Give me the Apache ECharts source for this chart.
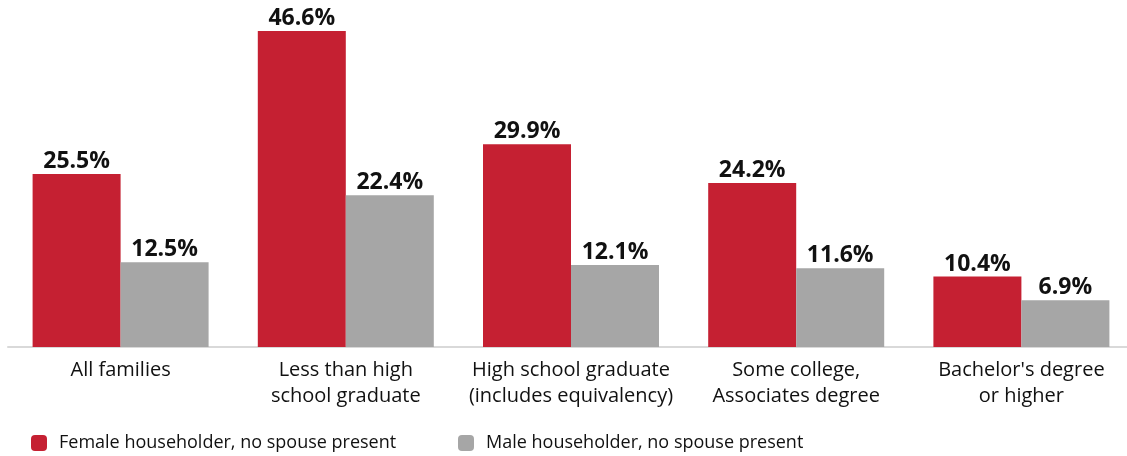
<!DOCTYPE html>
<html>
<head>
<meta charset="utf-8">
<script src="https://cdn.jsdelivr.net/npm/echarts@6/dist/echarts.min.js"></script>
<style>
  html, body { margin:0; padding:0; background:#fff; overflow:hidden; }
  #chart { width:1134px; height:456px; }
</style>
</head>
<body>
<div id="chart"></div>
<script>
// dados do gráfico
const categories = [
  'All families',
  'Less than high\nschool graduate',
  'High school graduate\n(includes equivalency)',
  'Some college,\nAssociates degree',
  "Bachelor's degree\nor higher"
];
const femaleName = 'Female householder, no spouse present';
const maleName = 'Male householder, no spouse present';
const femaleVals = [25.5, 46.6, 29.9, 24.2, 10.4];
const maleVals = [12.5, 22.4, 12.1, 11.6, 6.9];

const FONT = '"Open Sans", "Noto Sans", sans-serif';
const chart = echarts.init(document.getElementById('chart'));

const lbl = {
  show: true, position: 'top', distance: 1,
  formatter: p => p.value.toFixed(1) + '%',
  fontFamily: FONT, fontWeight: 'bold', fontSize: 23, color: '#111'
};

const legTxt = { fontFamily: FONT, fontSize: 18, color: '#111', padding: [0, 0, 0, 7] };

chart.setOption({
  animation: false,
  grid: { left: 8, top: 8, right: 0, bottom: 109, containLabel: false },
  legend: [
    { data: [femaleName], left: 26, top: 429, itemWidth: 16, itemHeight: 16, itemGap: 0, textStyle: legTxt },
    { data: [maleName], left: 453, top: 429, itemWidth: 16, itemHeight: 16, itemGap: 0, textStyle: legTxt }
  ],
  xAxis: {
    type: 'category', data: categories,
    axisLine: { lineStyle: { color: '#d9d9d9', width: 2 } },
    axisTick: { show: false },
    axisLabel: { interval: 0, margin: 10, fontFamily: FONT, fontSize: 20, color: '#111', lineHeight: 26 }
  },
  yAxis: { type: 'value', min: 0, max: 50, show: false, splitLine: { show: false } },
  series: [
    { name: femaleName, type: 'bar', data: femaleVals, barWidth: 88, barGap: '0%',
      itemStyle: { color: '#c52032' }, label: lbl },
    { name: maleName, type: 'bar', data: maleVals, barWidth: 88, barGap: '0%',
      itemStyle: { color: '#a6a6a6' }, label: lbl }
  ]
});
</script>
</body>
</html>
